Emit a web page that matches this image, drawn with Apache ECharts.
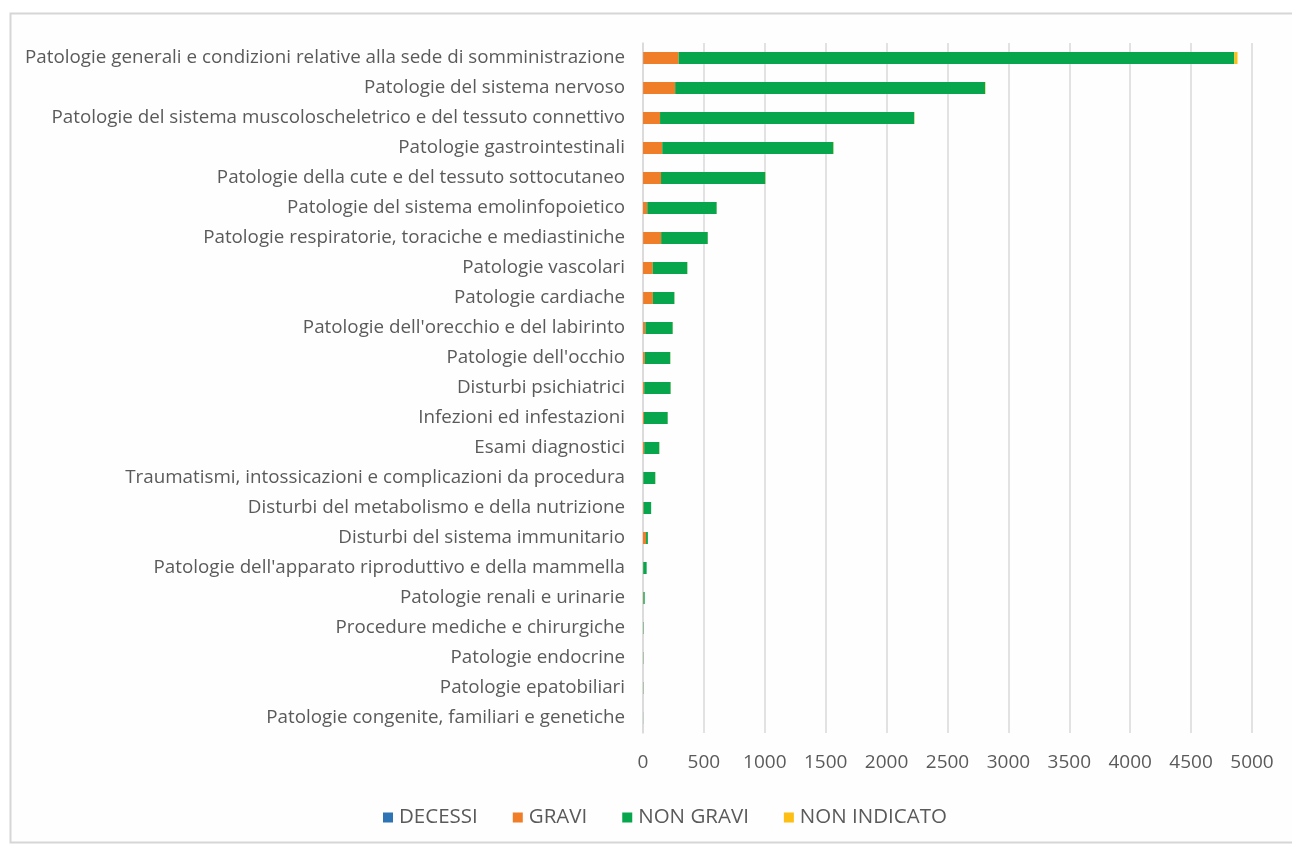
<!DOCTYPE html>
<html>
<head>
<meta charset="utf-8">
<script src="https://cdn.jsdelivr.net/npm/echarts@6/dist/echarts.min.js"></script>
<style>
  html, body { margin: 0; padding: 0; background: #ffffff; }
  #chart { width: 1292px; height: 846px; }
</style>
</head>
<body>
<div id="chart"></div>
<script>
// Adverse event reports by organ class, split by outcome
const categories = [
  "Patologie generali e condizioni relative alla sede di somministrazione",
  "Patologie del sistema nervoso",
  "Patologie del sistema muscoloscheletrico e del tessuto connettivo",
  "Patologie gastrointestinali",
  "Patologie della cute e del tessuto sottocutaneo",
  "Patologie del sistema emolinfopoietico",
  "Patologie respiratorie, toraciche e mediastiniche",
  "Patologie vascolari",
  "Patologie cardiache",
  "Patologie dell'orecchio e del labirinto",
  "Patologie dell'occhio",
  "Disturbi psichiatrici",
  "Infezioni ed infestazioni",
  "Esami diagnostici",
  "Traumatismi, intossicazioni e complicazioni da procedura",
  "Disturbi del metabolismo e della nutrizione",
  "Disturbi del sistema immunitario",
  "Patologie dell'apparato riproduttivo e della mammella",
  "Patologie renali e urinarie",
  "Procedure mediche e chirurgiche",
  "Patologie endocrine",
  "Patologie epatobiliari",
  "Patologie congenite, familiari e genetiche"
];

const decessi     = [2, 1, 0, 0, 0, 0, 1, 0, 1, 0, 0, 0, 0, 0, 0, 0, 0, 0, 0, 0, 0, 0, 0];
const gravi       = [290, 263, 140, 158, 148, 35, 148, 80, 80, 20, 15, 10, 8, 10, 3, 5, 25, 2, 4, 1, 1, 1, 0];
const nonGravi    = [4563, 2545, 2087, 1405, 856, 570, 383, 284, 177, 224, 209, 217, 195, 124, 98, 62, 15, 28, 10, 3, 2, 2, 1];
const nonIndicato = [26, 3, 2, 2, 2, 1, 1, 1, 1, 1, 1, 1, 1, 1, 1, 0, 0, 0, 0, 0, 0, 0, 0];

const xTicks = [0, 500, 1000, 1500, 2000, 2500, 3000, 3500, 4000, 4500, 5000];

const seriesDefs = [
  { name: "DECESSI", data: decessi, color: "#2e74b5" },
  { name: "GRAVI", data: gravi, color: "#f07d28" },
  { name: "NON GRAVI", data: nonGravi, color: "#07a64c" },
  { name: "NON INDICATO", data: nonIndicato, color: "#fdbf13" }
];

const textColor = "#5a5a5a";
const fontFamily = "'Open Sans', 'Liberation Sans', sans-serif";

const chart = echarts.init(document.getElementById("chart"), null, { renderer: "canvas" });

chart.setOption({
  backgroundColor: "#ffffff",
  animation: false,
  graphic: [{
    type: "rect",
    z: -10,
    shape: { x: 10.5, y: 13.5, width: 1300, height: 829 },
    style: { fill: "#fefefe", stroke: "#d6d6d6", lineWidth: 2 }
  }],
  grid: { left: 643, right: 40, top: 43, bottom: 113, containLabel: false },
  xAxis: {
    type: "value",
    min: xTicks[0],
    max: xTicks[xTicks.length - 1],
    interval: 500,
    axisLine: { show: false },
    axisTick: { show: false },
    splitLine: { show: true, lineStyle: { color: "#d9d9d9", width: 1.5 } },
    axisLabel: {
      color: textColor, fontFamily: fontFamily, fontSize: 19, margin: 20,
      formatter: v => String(v)
    }
  },
  yAxis: {
    type: "category",
    inverse: true,
    data: categories,
    axisLine: { show: true, lineStyle: { color: "#d9d9d9", width: 1.5 } },
    axisTick: { show: false },
    axisLabel: {
      color: textColor, fontFamily: fontFamily, fontSize: 18.8, margin: 18
    }
  },
  legend: {
    bottom: 13,
    left: 378,
    itemWidth: 10,
    itemHeight: 10,
    itemGap: 35,
    icon: "rect",
    textStyle: { color: textColor, fontFamily: fontFamily, fontSize: 20.5, padding: [0, 0, 0, 1] },
    data: seriesDefs.map(s => s.name)
  },
  series: seriesDefs.map(s => ({
    name: s.name,
    type: "bar",
    stack: "total",
    barWidth: 12,
    data: s.data,
    itemStyle: { color: s.color },
    emphasis: { disabled: true }
  }))
});
</script>
</body>
</html>
